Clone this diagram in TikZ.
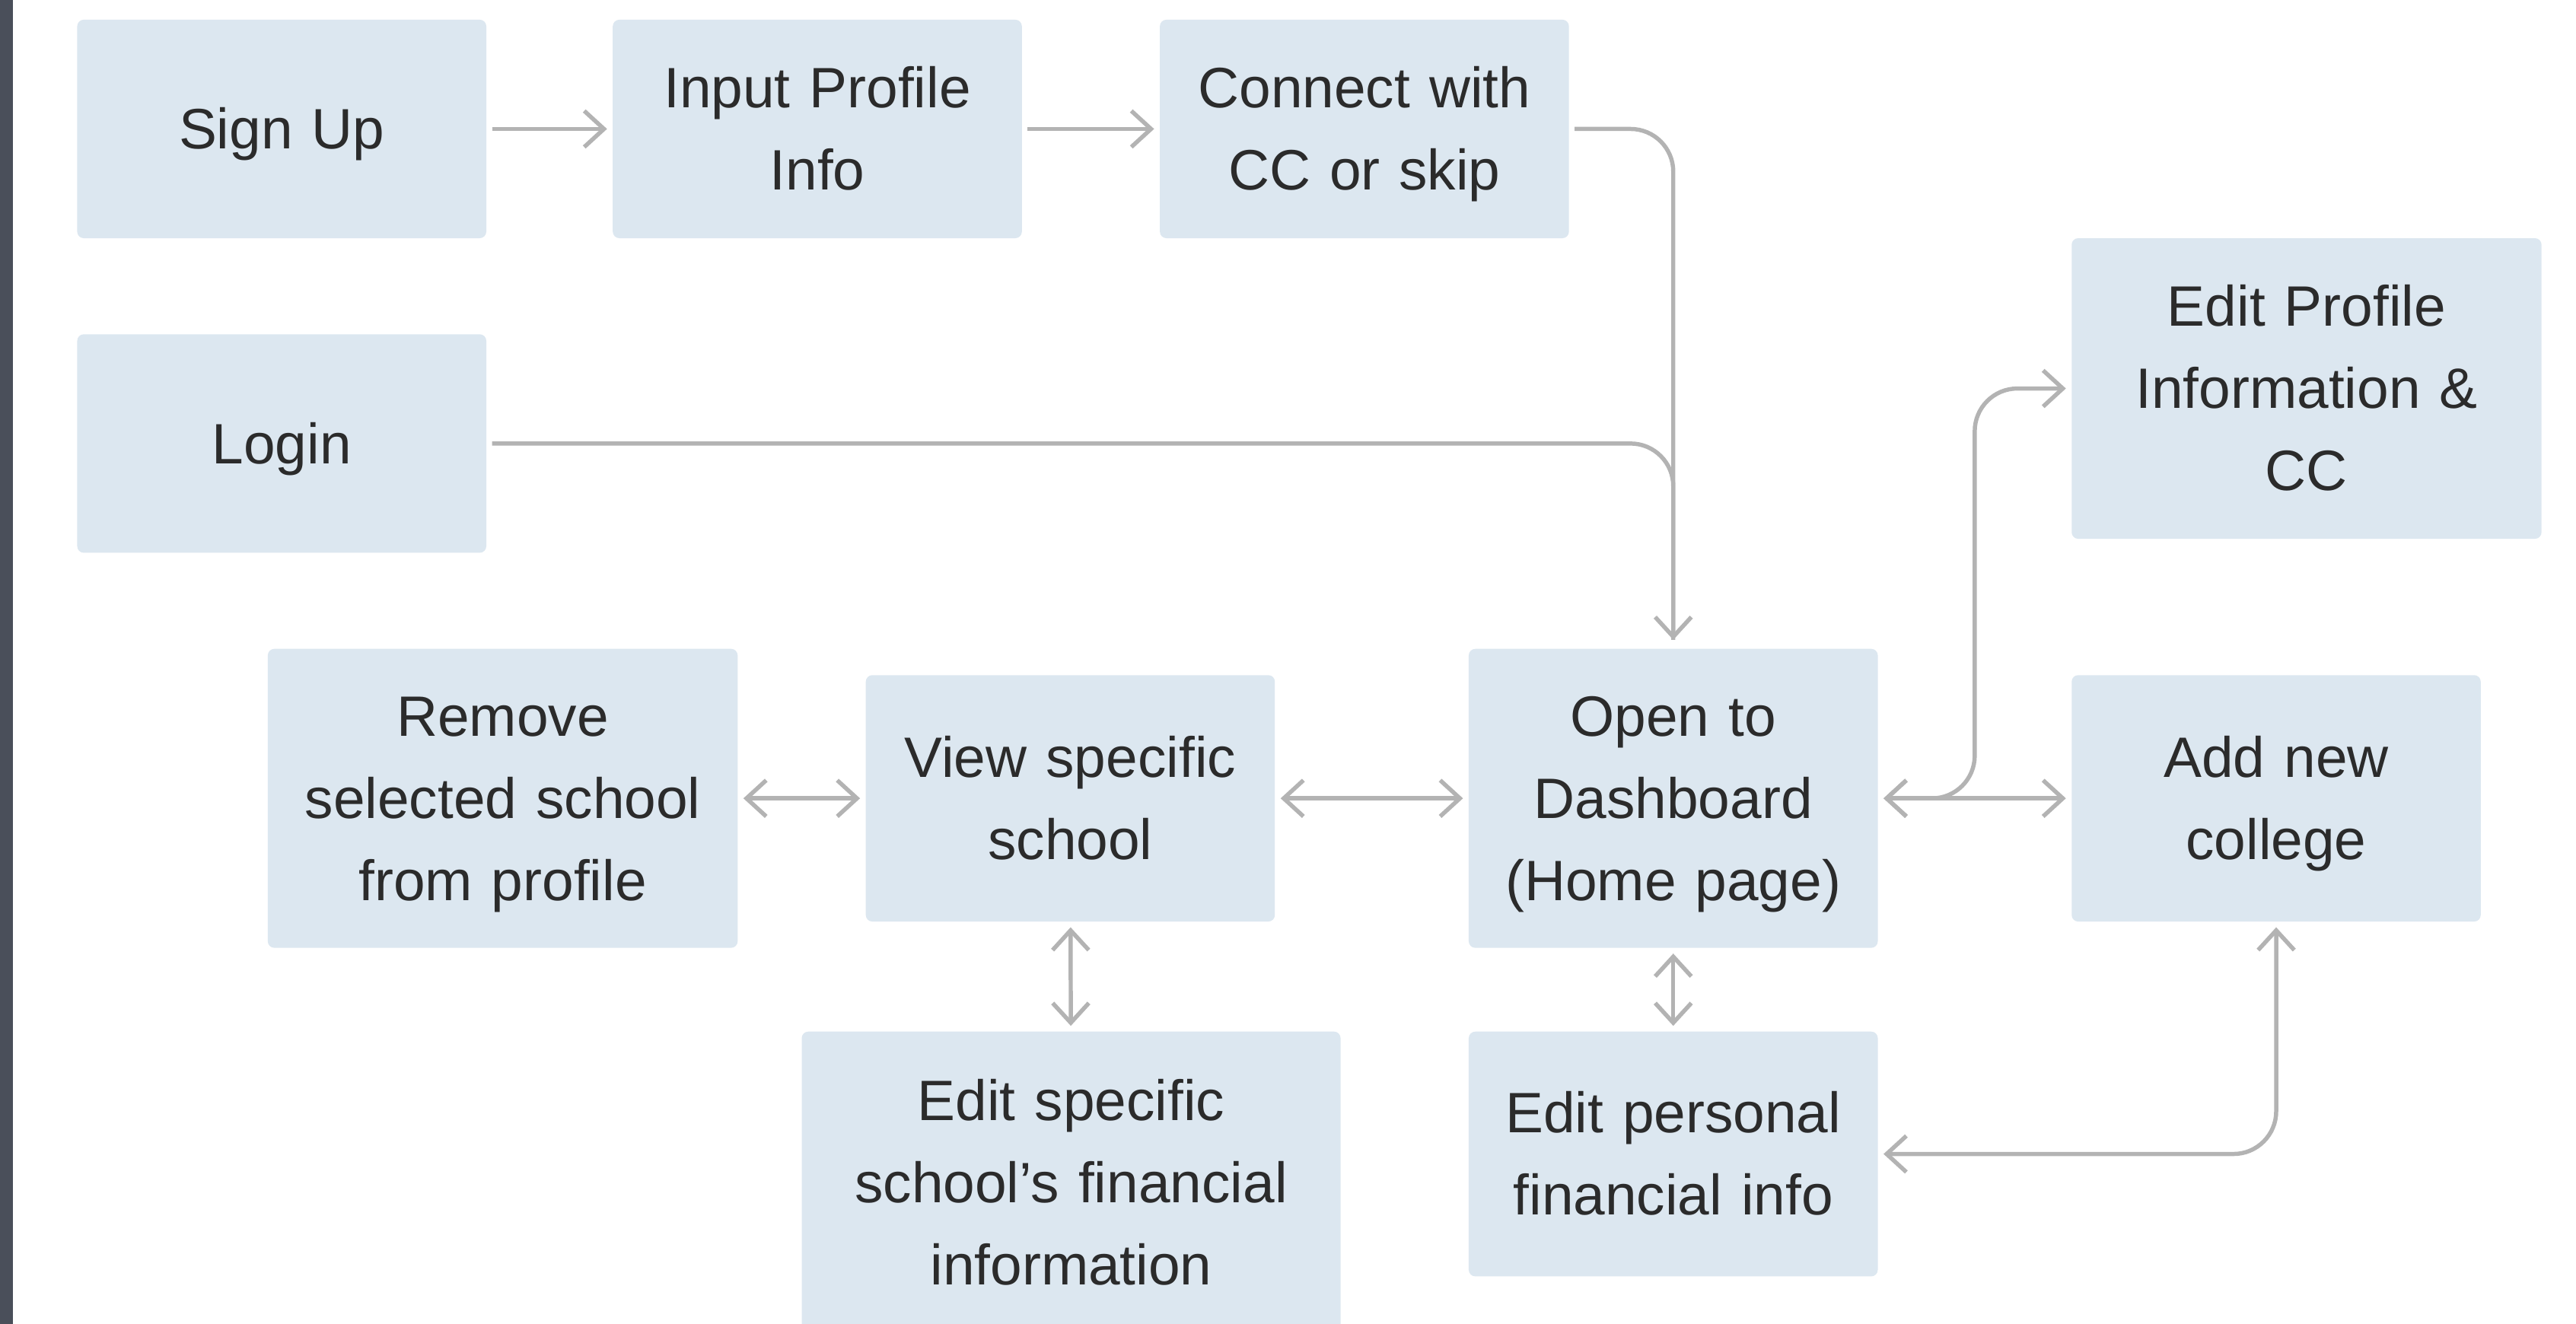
\documentclass[tikz,border=0pt]{standalone}
\usepackage{fontspec}
\setmainfont{Liberation Sans}
\usetikzlibrary{arrows.meta}

\definecolor{boxblue}{RGB}{220,231,240}
\definecolor{linegray}{RGB}{179,179,179}
\definecolor{textdark}{RGB}{43,43,43}
\definecolor{sidebar}{RGB}{74,79,90}

% every text line gets the same height and depth
\newcommand{\boxstrut}{\rule[-9.65pt]{0pt}{37.5pt}}

\tikzset{every picture/.style={line width=0.75pt}}
\tikzset{
  box/.style={fill=boxblue, rounded corners=3pt, align=center, text=textdark, inner sep=0pt,
    text width=170pt, font=\fontsize{26}{37.5}\selectfont,
    execute at begin node=\boxstrut, execute at end node=\boxstrut},
  conn/.style={draw=linegray, line width=1.9pt, rounded corners=19.5pt,
    shorten <=2.25pt, shorten >=2.25pt, >={Straight Barb[length=9pt,width=16.5pt]}},
}

\begin{document}
\begin{tikzpicture}[x=0.75pt,y=0.75pt,yscale=-1,xscale=1]
    %set diagram left start at 0, and has height of 806
    \fill[white] (0,0) rectangle (1568,806);
    \useasboundingbox (0,0) rectangle (1568,806);

    %Shape: Rectangle [sidebar]
    \fill[sidebar] (0,0) rectangle (8,806);

    % Text Node
    \node (signup) at (171.5,78.5) [box, minimum width=186.75pt, minimum height=99.75pt] {Sign Up};
    % Text Node
    \node (input) at (497.5,78.5) [box, minimum width=186.75pt, minimum height=99.75pt] {Input Profile\\Info};
    % Text Node
    \node (connect) at (830.5,78.5) [box, minimum width=186.75pt, minimum height=99.75pt] {Connect with\\CC or skip};
    % Text Node
    \node (login) at (171.5,270) [box, minimum width=186.75pt, minimum height=99.75pt] {Login};
    % Text Node
    \node (editprof) at (1404,236.5) [box, text width=214.5pt, minimum height=137.25pt] {Edit Profile\\Information \&\\CC};
    % Text Node
    \node (remove) at (306,486) [box, text width=214.5pt, minimum height=136.5pt] {Remove\\selected school\\from profile};
    % Text Node
    \node (view) at (651.5,486) [box, minimum width=186.75pt, minimum height=112.5pt] {View specific\\school};
    % Text Node
    \node (dash) at (1018.5,486) [box, minimum width=186.75pt, minimum height=136.5pt] {Open to\\Dashboard\\(Home page)};
    % Text Node
    \node (addnew) at (1385.5,486) [box, minimum width=186.75pt, minimum height=112.5pt] {Add new\\college};
    % Text Node
    \node (editschool) at (652,720) [box, text width=246pt, minimum height=138pt] {Edit specific\\school’s financial\\information};
    % Text Node
    \node (editfin) at (1018.5,702.5) [box, minimum width=186.75pt, minimum height=111.75pt] {Edit personal\\financial info};

    \coordinate (split) at (1202,486);

    %Straight Lines
    \draw[conn, ->] (signup) -- (input);
    %Straight Lines
    \draw[conn, ->] (input) -- (connect);
    %Straight Lines
    \draw[conn, ->, shorten >=3.75pt] (connect.east) -| (dash.north);
    %Straight Lines
    \draw[conn, shorten >=3.75pt] (login.east) -| (dash.north);
    %Straight Lines
    \draw[conn, <->] (remove) -- (view);
    %Straight Lines
    \draw[conn, <->] (view) -- (dash);
    %Straight Lines
    \draw[conn, <->] (dash) -- (addnew);
    %Straight Lines
    \draw[conn, <->] (dash.east) -- (split) |- (editprof.west);
    %Straight Lines
    \draw[conn, <->] (view) -- (editschool);
    %Straight Lines
    \draw[conn, <->] (dash) -- (editfin);
    %Straight Lines
    \draw[conn, <->] (editfin.east) -| (addnew.south);

\end{tikzpicture}
\end{document}
